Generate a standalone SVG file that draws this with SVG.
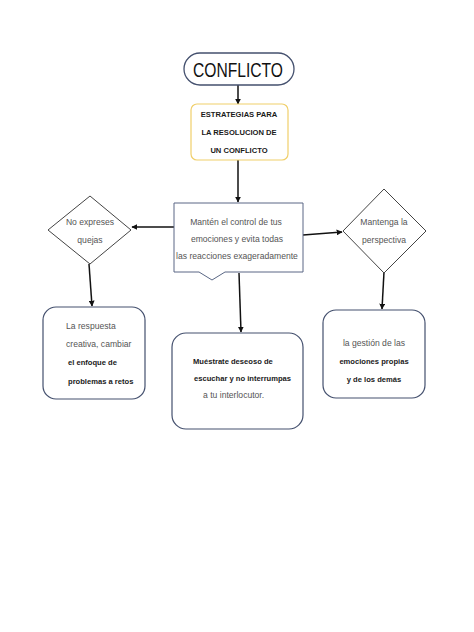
<svg xmlns="http://www.w3.org/2000/svg" width="474" height="632" viewBox="0 0 474 632">
<style>
.t{font-family:"Liberation Sans",Arial,sans-serif;fill:#555;font-size:8.6px}
.b{font-family:"Liberation Sans",Arial,sans-serif;fill:#1a1a1a;font-size:7.6px;font-weight:bold}
.box{fill:#fff;stroke:#44506e;stroke-width:1.2}
.dia{fill:#fff;stroke:#444;stroke-width:1}
.c{stroke:#111;stroke-width:1.5;fill:none;marker-end:url(#ah)}
</style>
<defs>
<marker id="ah" viewBox="0 0 10 10" refX="9" refY="5" markerWidth="6" markerHeight="6" markerUnits="userSpaceOnUse" orient="auto">
<path d="M0,0 L10,5 L0,10 z" fill="#111"/>
</marker>
</defs>
<rect width="474" height="632" fill="#fff"/>
<g id="connectors">
<line class="c" x1="238" y1="85" x2="238" y2="104"/>
<line class="c" x1="238" y1="160" x2="238" y2="202"/>
<line class="c" x1="174" y1="227" x2="132" y2="227"/>
<line class="c" x1="303" y1="235" x2="342" y2="232"/>
<line class="c" x1="89" y1="264" x2="92" y2="306"/>
<line class="c" x1="384" y1="272" x2="382" y2="309"/>
<line class="c" x1="239" y1="273" x2="241" y2="332"/>
</g>
<g id="conflicto">
<rect x="184" y="53" width="110" height="32" rx="16" fill="#fff" stroke="#44506e" stroke-width="1.3"/>
<text x="238" y="77" text-anchor="middle" font-family="Liberation Sans,Arial,sans-serif" font-size="20" fill="#111" textLength="90" lengthAdjust="spacingAndGlyphs">CONFLICTO</text>
</g>
<g id="estrategias">
<rect x="191" y="104" width="97" height="56" rx="6" fill="#fff" stroke="#f0cf6a" stroke-width="1.2"/>
<text class="b" x="239" y="117" text-anchor="middle" font-size="6.6">ESTRATEGIAS PARA</text>
<text class="b" x="239" y="135" text-anchor="middle" font-size="6.6">LA RESOLUCION DE</text>
<text class="b" x="239" y="153" text-anchor="middle" font-size="6.6">UN CONFLICTO</text>
</g>
<g id="manten">
<path d="M174,203 H303 V272 H225 L212,280 L199,272 H174 Z" fill="#fff" stroke="#5a6785" stroke-width="1"/>
<text class="t" x="236" y="225" text-anchor="middle">Mantén el control de tus</text>
<text class="t" x="237" y="242" text-anchor="middle">emociones y evita todas</text>
<text class="t" x="237" y="259" text-anchor="middle">las reacciones exageradamente</text>
</g>
<g id="noexpreses">
<polygon class="dia" points="90,196 131,230 90,264 48,230"/>
<text class="t" x="90" y="225" text-anchor="middle">No expreses</text>
<text class="t" x="90" y="243" text-anchor="middle">quejas</text>
</g>
<g id="mantenga">
<polygon class="dia" points="384,189 426,231 384,273 343,231"/>
<text class="t" x="384" y="225" text-anchor="middle">Mantenga la</text>
<text class="t" x="384" y="243" text-anchor="middle">perspectiva</text>
</g>
<g id="respuesta">
<rect class="box" x="43" y="307" width="102" height="92" rx="13"/>
<text class="t" x="66" y="329">La respuesta</text>
<text class="t" x="66" y="347">creativa, cambiar</text>
<text class="b" x="68" y="365" font-size="8.2">el enfoque de</text>
<text class="b" x="68" y="384" font-size="8.2">problemas a retos</text>
</g>
<g id="muestrate">
<rect class="box" x="172" y="333" width="131" height="96" rx="14"/>
<text class="b" x="193" y="364">Muéstrate deseoso de</text>
<text class="b" x="194" y="381">escuchar y no interrumpas</text>
<text class="t" x="203" y="398">a tu interlocutor.</text>
</g>
<g id="gestion">
<rect class="box" x="323" y="310" width="102" height="88" rx="13"/>
<text class="t" x="374" y="346" text-anchor="middle">la gestión de las</text>
<text class="b" x="374" y="364" text-anchor="middle">emociones propias</text>
<text class="b" x="374" y="382" text-anchor="middle">y de los demás</text>
</g>
</svg>
